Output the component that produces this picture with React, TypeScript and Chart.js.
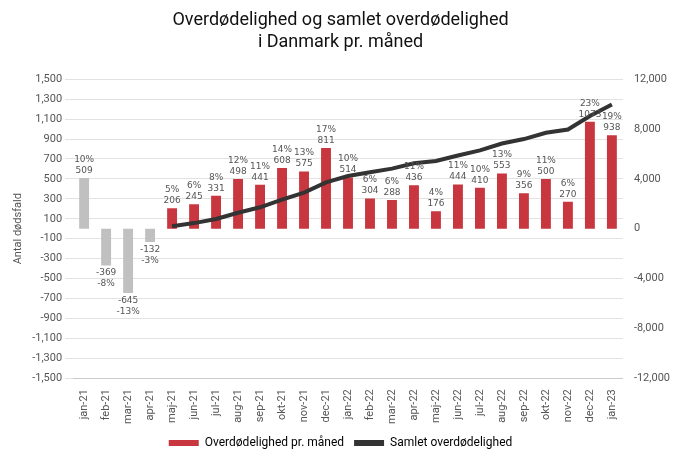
import React, { useEffect, useRef } from "react";
import { Chart, registerables } from "chart.js";
Chart.register(...registerables);

const categories = ["jan-21","feb-21","mar-21","apr-21","maj-21","jun-21","jul-21","aug-21","sep-21","okt-21","nov-21","dec-21","jan-22","feb-22","mar-22","apr-22","maj-22","jun-22","jul-22","aug-22","sep-22","okt-22","nov-22","dec-22","jan-23"];
const monthly = [509,-369,-645,-132,206,245,331,498,441,608,575,811,514,304,288,436,176,444,410,553,356,500,270,1073,938];
const pctLabels = ["10%","-8%","-13%","-3%","5%","6%","8%","12%","11%","14%","13%","17%","10%","6%","6%","11%","4%","11%","10%","13%","9%","11%","6%","23%","19%"];
const cumulative = [null,null,null,null,206,451,782,1280,1721,2329,2904,3715,4229,4533,4821,5257,5433,5877,6287,6840,7196,7696,7966,9039,9977];
const barColors = ["#c0c0c0","#c0c0c0","#c0c0c0","#c0c0c0","#c8363f","#c8363f","#c8363f","#c8363f","#c8363f","#c8363f","#c8363f","#c8363f","#c8363f","#c8363f","#c8363f","#c8363f","#c8363f","#c8363f","#c8363f","#c8363f","#c8363f","#c8363f","#c8363f","#c8363f","#c8363f"];

const labelPlugin = {
  id: "barLabels",
  afterDatasetsDraw(chart: any) {
    const ctx = chart.ctx;
    const meta = chart.getDatasetMeta(0);
    ctx.save();
    ctx.font = "9px 'DejaVu Sans'";
    ctx.fillStyle = "#555";
    ctx.textAlign = "center";
    meta.data.forEach((bar: any, i: number) => {
      const v = monthly[i];
      if (v >= 0) {
        ctx.textBaseline = "bottom";
        ctx.fillText(String(v), bar.x, bar.y - 3);
        ctx.fillText(pctLabels[i], bar.x, bar.y - 14);
      } else {
        ctx.textBaseline = "top";
        ctx.fillText(String(v), bar.x, bar.y + 3);
        ctx.fillText(pctLabels[i], bar.x, bar.y + 14);
      }
    });
    ctx.restore();
  },
};

export default function App() {
  const ref = useRef<HTMLCanvasElement>(null);
  useEffect(() => {
    const chart = new Chart(ref.current!, {
      type: "bar",
      data: {
        labels: categories,
        datasets: [
          { type: "bar", label: "Overdødelighed pr. måned", data: monthly, backgroundColor: barColors, yAxisID: "y", barPercentage: 0.45, categoryPercentage: 1, order: 2 },
          { type: "line", label: "Samlet overdødelighed", data: cumulative as any, borderColor: "#333", backgroundColor: "#333", borderWidth: 4, pointRadius: 0, yAxisID: "y1", order: 1 },
        ],
      },
      options: {
        animation: false,
        responsive: false,
        layout: { padding: { left: 0, right: 0, top: 0 } },
        plugins: {
          title: { display: true, text: ["Overdødelighed og samlet overdødelighed", "i Danmark pr. måned"], font: { family: "Roboto", size: 18, weight: "normal" }, color: "#111", padding: { top: 2, bottom: 26 } },
          legend: {
            position: "bottom",
            labels: {
              font: { family: "Roboto", size: 12 }, color: "#444",
              generateLabels: () => [
                { text: "Overdødelighed pr. måned", fillStyle: "#c8363f", strokeStyle: "#c8363f", lineWidth: 0, datasetIndex: 0 } as any,
                { text: "Samlet overdødelighed", fillStyle: "#333", strokeStyle: "#333", lineWidth: 0, datasetIndex: 1 } as any,
              ],
              boxWidth: 30, boxHeight: 6,
            },
          },
          tooltip: { enabled: false },
        },
        scales: {
          x: { grid: { display: false }, ticks: { maxRotation: 90, minRotation: 90, font: { family: "Roboto", size: 11 }, color: "#555" } },
          y: {
            min: -1500, max: 1500,
            ticks: { stepSize: 200, font: { family: "Roboto", size: 11 }, color: "#555" },
            grid: { color: "#e2e2e2" }, border: { display: false },
            title: { display: true, text: "Antal dødsfald", font: { family: "Roboto", size: 11 }, color: "#555" },
          },
          y1: {
            position: "right", min: -12000, max: 12000,
            ticks: { stepSize: 4000, font: { family: "Roboto", size: 11 }, color: "#555" },
            grid: { display: false }, border: { display: false },
          },
        },
      },
      plugins: [labelPlugin],
    } as any);
    return () => chart.destroy();
  }, []);
  return <canvas ref={ref} width={665} height={451} />;
}
